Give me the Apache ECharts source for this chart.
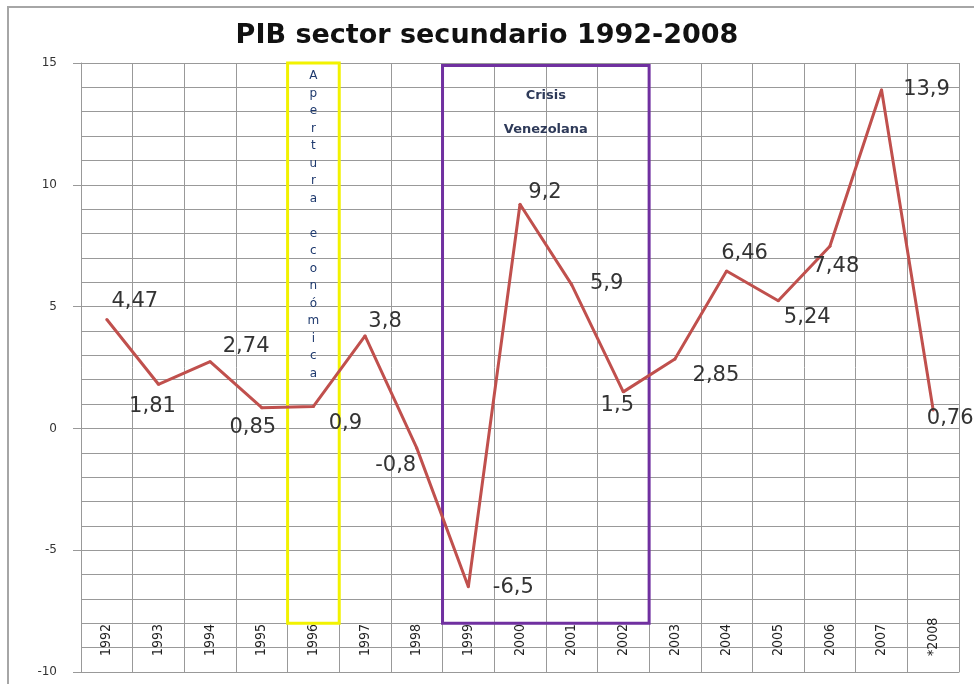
<!DOCTYPE html>
<html>
<head>
<meta charset="utf-8">
<script src="https://cdn.jsdelivr.net/npm/echarts@6/dist/echarts.min.js"></script>
<style>
  html, body { margin: 0; padding: 0; background: #fff; }
  #main { width: 974px; height: 684px; }
</style>
</head>
<body>
<div id="main"></div>
<script>
var years = ['1992', '1993', '1994', '1995', '1996', '1997', '1998', '1999', '2000',
  '2001', '2002', '2003', '2004', '2005', '2006', '2007', '*2008'];
var pib = [4.47, 1.81, 2.74, 0.85, 0.9, 3.8, -0.8, -6.5, 9.2, 5.9, 1.5, 2.85, 6.46, 5.24, 7.48, 13.9, 0.76];
var yTicks = [-10, -5, 0, 5, 10, 15];

// periodos marcados
var apertura = ['1996', '1996'];
var crisis = ['1999', '2002'];

// desplazamiento de cada etiqueta respecto a su punto (px)
var labelShift = [
  [28, -18], [-6, 22], [36, -15], [-9, 20], [32, 17], [20, -14], [-21, 18], [45, 1],
  [25, -12], [35, -1], [-6, 14], [41, 17], [18, -17], [29, 17], [6, 20], [45, 0], [17, 9]
];

var chartDom = document.getElementById('main');
var myChart = echarts.init(chartDom);

var gridColor = '#999999';

var band = function (pair) {
  return [years.indexOf(pair[0]) - 0.5, years.indexOf(pair[1]) + 0.5];
};
var ap = band(apertura);
var cr = band(crisis);

var lineData = pib.map(function (v, i) {
  return {
    value: v,
    label: { offset: labelShift[i] }
  };
});

var option = {
  animation: false,
  title: {
    text: 'PIB sector secundario 1992-2008',
    left: 'center',
    top: 17,
    textStyle: {
      fontFamily: 'DejaVu Sans',
      fontWeight: 'bold',
      fontSize: 27,
      color: '#111'
    }
  },
  graphic: [{
    type: 'polyline',
    shape: { points: [[8, 720], [8, 7], [1100, 7]] },
    style: { fill: null, stroke: '#a6a6a6', lineWidth: 2 },
    z: -10
  }],
  grid: { left: 81, right: 15, top: 63, bottom: 12 },
  xAxis: [{
    type: 'category',
    data: years,
    position: 'bottom',
    boundaryGap: true,
    axisLine: { onZero: false, lineStyle: { color: gridColor } },
    axisTick: { show: false },
    splitLine: { show: true, interval: 0, lineStyle: { color: gridColor } },
    axisLabel: {
      inside: true,
      rotate: 90,
      margin: 16,
      interval: 0,
      fontFamily: 'Liberation Sans Narrow, DejaVu Sans Condensed, sans-serif',
      fontSize: 14,
      color: '#222'
    }
  }, {
    type: 'value',
    min: -0.5,
    max: years.length - 0.5,
    show: false,
    axisLine: { show: false, onZero: false },
    axisTick: { show: false },
    axisLabel: { show: false },
    splitLine: { show: false }
  }],
  yAxis: {
    type: 'value',
    min: yTicks[0],
    max: yTicks[yTicks.length - 1],
    interval: 5,
    axisLine: { show: true, onZero: false, lineStyle: { color: gridColor } },
    axisTick: { show: true, length: 8, lineStyle: { color: gridColor } },
    splitLine: { show: true, lineStyle: { color: gridColor } },
    minorTick: { show: false, splitNumber: 5 },
    minorSplitLine: { show: true, lineStyle: { color: gridColor } },
    axisLabel: {
      margin: 24,
      fontFamily: 'DejaVu Sans',
      fontSize: 12,
      color: '#333'
    }
  },
  series: [{
    name: 'PIB',
    type: 'line',
    data: lineData,
    symbol: 'circle',
    symbolSize: 3,
    itemStyle: { color: '#c0504d' },
    lineStyle: { color: '#c0504d', width: 3 },
    z: 5,
    label: {
      show: true,
      position: 'inside',
      fontFamily: 'DejaVu Sans',
      fontSize: 21,
      color: '#333',
      formatter: function (p) {
        return String(p.value).replace('.', ',');
      }
    }
  }, {
    name: 'periodos',
    type: 'line',
    xAxisIndex: 1,
    data: [],
    markArea: {
      silent: true,
      data: [
        [{
          xAxis: ap[0], yAxis: 15,
          itemStyle: { color: 'rgba(0,0,0,0)', borderColor: '#f2f200', borderWidth: 3 },
          label: {
            show: true,
            position: 'insideTop',
            distance: 6,
            formatter: 'A\np\ne\nr\nt\nu\nr\na\n\ne\nc\no\nn\nó\nm\ni\nc\na',
            fontFamily: 'DejaVu Sans',
            fontSize: 12,
            lineHeight: 17.5,
            color: '#1f3a6e',
            align: 'center'
          }
        }, { xAxis: ap[1], yAxis: -8 }],
        [{
          xAxis: cr[0], yAxis: 14.9,
          itemStyle: { color: 'rgba(0,0,0,0)', borderColor: '#7030a0', borderWidth: 3 },
          label: {
            show: true,
            position: 'insideTop',
            distance: 23,
            formatter: 'Crisis\n\nVenezolana',
            fontFamily: 'DejaVu Sans',
            fontWeight: 'bold',
            fontSize: 13,
            lineHeight: 17,
            color: '#2e3a59',
            align: 'center'
          }
        }, { xAxis: cr[1], yAxis: -8 }]
      ]
    }
  }]
};

option && myChart.setOption(option);
</script>
</body>
</html>
